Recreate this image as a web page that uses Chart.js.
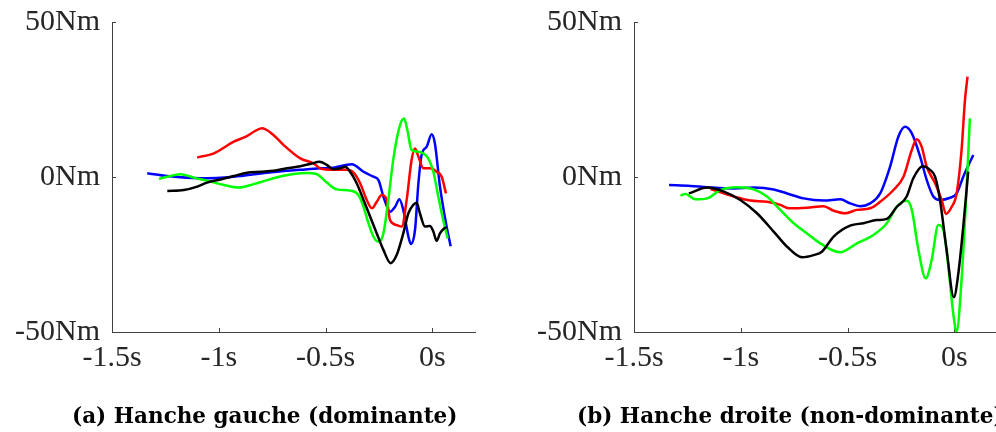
<!DOCTYPE html>
<html>
<head>
<meta charset="utf-8">
<script src="https://cdn.jsdelivr.net/npm/chart.js@4.4.1/dist/chart.umd.min.js"></script>
<style>
  html, body { margin: 0; padding: 0; background: #fff; overflow: hidden; width: 996px; height: 432px; }
  canvas { position: absolute; top: 0; }
  #gauche { left: 0; }
  #droite { left: 522px; }
  .legende { position: absolute; top: 403px; font: bold 21.5px "DejaVu Serif", serif; color: #000; white-space: nowrap; line-height: 26px; }
</style>
</head>
<body>
<canvas id="gauche" width="498" height="432"></canvas>
<canvas id="droite" width="498" height="432"></canvas>
<div class="legende" style="left:72px">(a) Hanche gauche (dominante)</div>
<div class="legende" style="left:577px">(b) Hanche droite (non-dominante)</div>
<script>
// axes
const xTicks = [-1.5, -1, -0.5, 0];
const yTicks = [-50, 0, 50];

// (a) hanche gauche : temps (s) et couple (Nm)
const gBleuT  = [-1.335, -1.241, -1.086, -0.930, -0.774, -0.618, -0.525, -0.463, -0.377, -0.322, -0.276, -0.252, -0.229, -0.198, -0.174, -0.154, -0.136, -0.112, -0.101, -0.081, -0.065, -0.050, -0.026, -0.003, 0.012, 0.036, 0.067, 0.086];
const gBleuNm = [1.2, 0.3, -0.4, 0.1, 1.4, 2.3, 2.8, 3.0, 4.1, 1.7, 0.1, -1.0, -6.3, -11.2, -9.6, -7.2, -10.6, -19.2, -21.6, -17.1, -2.0, 7.1, 9.8, 13.8, 10.9, -3.1, -16.0, -22.3];

const gRougeT  = [-1.101, -1.023, -0.930, -0.868, -0.836, -0.798, -0.743, -0.696, -0.618, -0.556, -0.525, -0.463, -0.400, -0.369, -0.338, -0.307, -0.283, -0.260, -0.237, -0.213, -0.198, -0.167, -0.143, -0.120, -0.097, -0.081, -0.065, -0.042, -0.011, 0.020, 0.044, 0.064];
const gRougeNm = [6.3, 7.6, 11.4, 13.2, 14.6, 15.7, 13.5, 10.3, 6.0, 4.4, 2.8, 2.3, 2.3, 1.4, -2.0, -7.4, -10.1, -8.0, -5.8, -7.4, -13.9, -15.5, -16.0, -7.4, 5.5, 9.2, 6.6, 2.8, 2.8, 1.7, 0.1, -5.3];

const gVertT  = [-1.280, -1.241, -1.179, -1.117, -1.055, -0.992, -0.907, -0.836, -0.774, -0.696, -0.650, -0.587, -0.540, -0.494, -0.447, -0.385, -0.346, -0.322, -0.299, -0.276, -0.252, -0.229, -0.206, -0.182, -0.151, -0.132, -0.117, -0.097, -0.073, -0.042, -0.019, 0.005, 0.028, 0.051, 0.072];
const gVertNm = [-0.6, 0.1, 0.9, -0.2, -1.2, -2.3, -3.4, -2.3, -1.0, 0.4, 1.0, 1.3, 0.9, -1.8, -4.0, -4.4, -5.8, -9.6, -14.9, -19.2, -20.9, -18.2, -7.4, 6.0, 16.8, 18.9, 15.2, 8.7, 8.2, 7.6, 6.0, 1.7, -6.3, -13.9, -19.8];

const gNoirT  = [-1.241, -1.164, -1.101, -1.055, -0.992, -0.930, -0.868, -0.805, -0.743, -0.681, -0.618, -0.572, -0.528, -0.494, -0.463, -0.431, -0.408, -0.385, -0.354, -0.322, -0.291, -0.260, -0.229, -0.195, -0.167, -0.136, -0.112, -0.089, -0.073, -0.058, -0.034, -0.011, 0.005, 0.020, 0.036, 0.055, 0.067];
const gNoirNm = [-4.5, -4.2, -3.1, -1.8, -0.8, 0.3, 1.4, 1.7, 2.0, 2.8, 3.5, 4.2, 4.9, 3.9, 2.5, 2.8, 3.3, 1.7, -2.0, -7.4, -12.8, -18.2, -23.5, -27.8, -25.2, -18.2, -11.7, -9.0, -8.3, -11.7, -16.0, -15.8, -17.6, -20.6, -18.2, -16.6, -16.2];

// (b) hanche droite
const dBleuT  = [-1.336, -1.235, -1.157, -1.033, -0.939, -0.846, -0.783, -0.706, -0.612, -0.534, -0.488, -0.441, -0.394, -0.347, -0.301, -0.262, -0.231, -0.199, -0.160, -0.129, -0.098, -0.067, -0.020, 0.011, 0.042, 0.089];
const dBleuNm = [-2.6, -2.9, -3.3, -3.7, -3.4, -4.0, -5.3, -6.9, -7.6, -7.2, -8.5, -9.4, -8.5, -5.3, 3.3, 13.0, 16.2, 14.1, 6.6, -1.0, -6.3, -7.4, -6.7, -5.3, 0.1, 7.1];

const dRougeT  = [-1.142, -1.033, -0.955, -0.877, -0.815, -0.776, -0.690, -0.612, -0.565, -0.511, -0.456, -0.394, -0.347, -0.285, -0.238, -0.199, -0.176, -0.153, -0.129, -0.090, -0.059, -0.039, -0.012, 0.011, 0.034, 0.050, 0.062];
const dRougeNm = [-3.9, -6.3, -7.6, -8.0, -9.0, -10.1, -9.9, -9.4, -10.9, -11.7, -10.6, -10.1, -8.0, -4.2, 0.1, 8.7, 12.2, 9.8, 3.3, -2.0, -7.4, -11.9, -9.6, -5.3, 8.7, 24.8, 32.4];

const dVertT  = [-1.282, -1.259, -1.212, -1.157, -1.095, -1.017, -0.939, -0.877, -0.815, -0.752, -0.690, -0.628, -0.534, -0.456, -0.379, -0.316, -0.269, -0.223, -0.199, -0.168, -0.134, -0.106, -0.075, -0.051, -0.028, -0.005, 0.011, 0.034, 0.055, 0.073];
const dVertNm = [-6.0, -5.5, -7.2, -6.9, -4.2, -3.3, -4.0, -6.3, -10.6, -14.9, -18.2, -21.4, -24.3, -21.4, -18.7, -14.9, -9.6, -7.7, -10.6, -23.5, -32.7, -26.8, -15.5, -17.1, -28.9, -44.0, -49.9, -33.2, -7.4, 18.9];

const dNoirT  = [-1.243, -1.157, -1.079, -1.002, -0.924, -0.846, -0.783, -0.713, -0.659, -0.620, -0.565, -0.488, -0.425, -0.363, -0.316, -0.269, -0.223, -0.192, -0.148, -0.114, -0.090, -0.067, -0.036, -0.002, 0.019, 0.042, 0.065];
const dNoirNm = [-5.3, -3.4, -4.7, -7.4, -11.7, -17.6, -22.5, -25.9, -25.2, -24.1, -19.2, -15.7, -14.9, -13.9, -13.5, -9.6, -6.3, -0.4, 3.5, 2.3, 0.1, -7.4, -23.5, -38.8, -31.1, -16.0, 1.7];

const axisColor = '#404040';
const tickFont = { family: "'Liberation Serif', serif", size: 30 };

function pts(t, v) {
  return t.map((x, i) => ({ x: x, y: v[i] }));
}

function serie(t, v, color) {
  return {
    data: pts(t, v),
    borderColor: color,
    borderWidth: 2.5,
    pointRadius: 0,
    fill: false,
    cubicInterpolationMode: 'monotone'
  };
}

// petites graduations vers l'interieur, comme dans la figure
const ticksDedans = {
  id: 'ticksDedans',
  beforeDatasetsDraw(chart) {
    const c = chart.ctx, a = chart.chartArea;
    const sx = chart.scales.x, sy = chart.scales.y;
    c.save();
    c.strokeStyle = axisColor;
    c.lineWidth = 1;
    c.beginPath();
    xTicks.forEach(v => {
      const px = Math.round(sx.getPixelForValue(v)) + 0.5;
      c.moveTo(px, a.bottom);
      c.lineTo(px, a.bottom - 4);
    });
    yTicks.forEach(v => {
      const py = Math.round(sy.getPixelForValue(v)) + 0.5;
      c.moveTo(a.left, py);
      c.lineTo(a.left + 4, py);
    });
    c.stroke();
    c.restore();
  }
};

function graphique(id, datasets) {
  return new Chart(document.getElementById(id), {
    type: 'line',
    data: { datasets: datasets },
    plugins: [ticksDedans],
    options: {
      responsive: false,
      animation: false,
      devicePixelRatio: 1,
      layout: { padding: { top: 22, right: 23, left: 0, bottom: 0 } },
      plugins: { legend: { display: false }, tooltip: { enabled: false } },
      scales: {
        x: {
          type: 'linear',
          min: -1.5,
          max: 0.2,
          afterFit: s => { s.height = 100; s.paddingLeft = 0; s.paddingRight = 0; },
          afterBuildTicks: s => { s.ticks = xTicks.map(v => ({ value: v })); },
          grid: { display: false, drawTicks: false },
          border: { display: true, color: axisColor, width: 1 },
          ticks: {
            font: tickFont,
            color: '#262626',
            padding: 8,
            maxRotation: 0,
            callback: v => v + 's'
          }
        },
        y: {
          min: -50,
          max: 50,
          afterFit: s => { s.width = 112; s.paddingTop = 0; s.paddingBottom = 0; },
          afterBuildTicks: s => { s.ticks = yTicks.map(v => ({ value: v })); },
          grid: { display: false, drawTicks: false },
          border: { display: true, color: axisColor, width: 1 },
          ticks: {
            font: tickFont,
            color: '#262626',
            padding: 12,
            callback: v => v + 'Nm'
          }
        }
      }
    }
  });
}

graphique('gauche', [
  serie(gNoirT, gNoirNm, '#000000'),
  serie(gVertT, gVertNm, '#00ff00'),
  serie(gRougeT, gRougeNm, '#ff0000'),
  serie(gBleuT, gBleuNm, '#0000ff')
]);

graphique('droite', [
  serie(dNoirT, dNoirNm, '#000000'),
  serie(dVertT, dVertNm, '#00ff00'),
  serie(dRougeT, dRougeNm, '#ff0000'),
  serie(dBleuT, dBleuNm, '#0000ff')
]);
</script>
</body>
</html>
